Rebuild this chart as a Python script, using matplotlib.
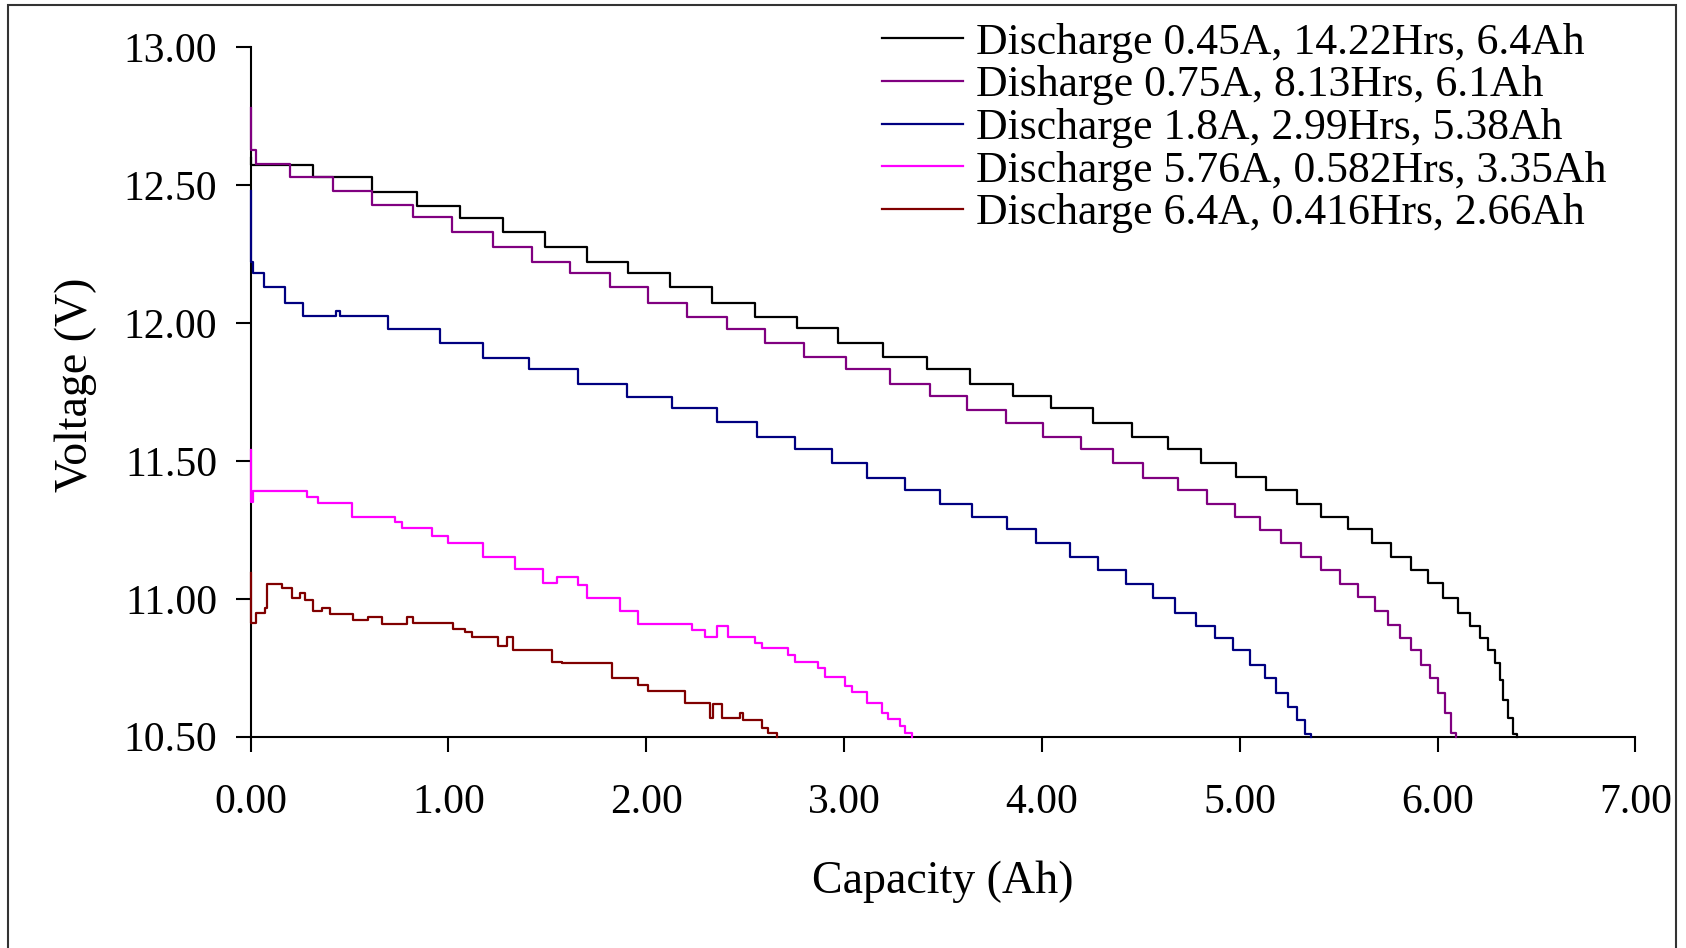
import numpy as np
import matplotlib.pyplot as plt
from matplotlib.patches import Rectangle

plt.rcParams['font.family'] = ['Liberation Serif', 'DejaVu Serif']

# capacity (Ah) where each voltage level starts, and the level (V)
cap_045 = [0, 0, 0.317, 0.613, 0.84, 1.059, 1.278, 1.488, 1.699, 1.909, 2.12, 2.33,
           2.549, 2.76, 2.97, 3.198, 3.417, 3.636, 3.855, 4.048, 4.259, 4.453, 4.638,
           4.805, 4.983, 5.135, 5.287, 5.413, 5.548, 5.666, 5.767, 5.868, 5.952, 6.029,
           6.103, 6.162, 6.213, 6.255, 6.29, 6.315, 6.33, 6.356, 6.381, 6.40]
volt_045 = [12.60, 12.573, 12.531, 12.476, 12.425, 12.38, 12.329, 12.277, 12.223, 12.18,
            12.13, 12.074, 12.023, 11.981, 11.927, 11.876, 11.832, 11.779, 11.736, 11.691,
            11.639, 11.588, 11.542, 11.494, 11.441, 11.395, 11.344, 11.298, 11.252, 11.202,
            11.153, 11.105, 11.057, 11.002, 10.948, 10.90, 10.857, 10.815, 10.766, 10.706,
            10.633, 10.567, 10.51, 10.50]

cap_075 = [0, 0, 0.03, 0.20, 0.418, 0.613, 0.823, 1.017, 1.227, 1.421, 1.615, 1.817,
           2.01, 2.204, 2.406, 2.60, 2.80, 3.01, 3.23, 3.434, 3.619, 3.821, 4.006, 4.2,
           4.36, 4.512, 4.69, 4.835, 4.975, 5.10, 5.21, 5.311, 5.413, 5.505, 5.598, 5.682,
           5.749, 5.808, 5.868, 5.918, 5.96, 6.002, 6.036, 6.07, 6.095]
volt_075 = [12.78, 12.628, 12.576, 12.531, 12.48, 12.428, 12.384, 12.331, 12.277, 12.223,
            12.18, 12.13, 12.074, 12.023, 11.979, 11.927, 11.876, 11.832, 11.779, 11.736,
            11.685, 11.639, 11.588, 11.542, 11.494, 11.437, 11.395, 11.344, 11.298, 11.25,
            11.202, 11.153, 11.105, 11.054, 11.008, 10.954, 10.905, 10.857, 10.815, 10.76,
            10.712, 10.658, 10.585, 10.513, 10.50]

cap_18 = [0, 0, 0.013, 0.067, 0.174, 0.266, 0.43, 0.45, 0.696, 0.958, 1.177, 1.405, 1.657,
          1.902, 2.129, 2.356, 2.558, 2.751, 2.937, 3.114, 3.31, 3.484, 3.648, 3.825, 3.97,
          4.14, 4.284, 4.427, 4.562, 4.672, 4.781, 4.874, 4.966, 5.051, 5.126, 5.185,
          5.244, 5.287, 5.329, 5.362]
volt_18 = [12.48, 12.223, 12.18, 12.132, 12.074, 12.027, 12.045, 12.027, 11.979, 11.929,
           11.875, 11.832, 11.779, 11.733, 11.691, 11.64, 11.588, 11.542, 11.492, 11.437,
           11.395, 11.344, 11.298, 11.252, 11.202, 11.152, 11.105, 11.054, 11.002, 10.948,
           10.90, 10.857, 10.815, 10.76, 10.712, 10.658, 10.609, 10.561, 10.51, 10.50]

cap_576 = [0, 0, 0.01, 0.284, 0.343, 0.512, 0.731, 0.764, 0.916, 1.0, 1.177, 1.337, 1.48,
           1.547, 1.657, 1.70, 1.867, 1.96, 2.229, 2.297, 2.356, 2.414, 2.549, 2.583,
           2.718, 2.752, 2.869, 2.903, 3.004, 3.038, 3.114, 3.19, 3.224, 3.283, 3.308,
           3.342]
volt_576 = [11.54, 11.35, 11.392, 11.37, 11.347, 11.298, 11.28, 11.256, 11.226, 11.202,
            11.152, 11.107, 11.057, 11.078, 11.05, 11.002, 10.954, 10.909, 10.887, 10.863,
            10.90, 10.863, 10.841, 10.821, 10.797, 10.772, 10.748, 10.716, 10.682, 10.66,
            10.621, 10.585, 10.564, 10.538, 10.514, 10.50]

cap_64 = [0, 0, 0.03, 0.072, 0.081, 0.157, 0.208, 0.25, 0.275, 0.317, 0.36, 0.402, 0.52,
          0.595, 0.663, 0.789, 0.823, 1.025, 1.084, 1.118, 1.252, 1.295, 1.328, 1.522,
          1.572, 1.825, 1.96, 2.01, 2.196, 2.322, 2.339, 2.381, 2.474, 2.49, 2.583, 2.617,
          2.659]
volt_64 = [11.093, 10.912, 10.948, 10.966, 11.054, 11.038, 11.002, 11.02, 10.996, 10.954,
           10.966, 10.945, 10.923, 10.935, 10.909, 10.935, 10.912, 10.89, 10.879, 10.863,
           10.827, 10.863, 10.815, 10.772, 10.766, 10.712, 10.688, 10.667, 10.621, 10.567,
           10.619, 10.567, 10.585, 10.561, 10.531, 10.513, 10.50]

labels = ['Discharge 0.45A, 14.22Hrs, 6.4Ah',
          'Disharge 0.75A, 8.13Hrs, 6.1Ah',
          'Discharge 1.8A, 2.99Hrs, 5.38Ah',
          'Discharge 5.76A, 0.582Hrs, 3.35Ah',
          'Discharge 6.4A, 0.416Hrs, 2.66Ah']
colors = ['black', '#800080', '#000080', '#FF00FF', '#800000']
series = [(cap_045, volt_045), (cap_075, volt_075), (cap_18, volt_18),
          (cap_576, volt_576), (cap_64, volt_64)]

fig = plt.figure(figsize=(16.86, 9.48), dpi=100)
ax = fig.add_axes([0.1486, 0.223, 0.8214, 0.727])

for (c, v), lab, col in zip(series, labels, colors):
    ax.step(c, v, where='post', color=col, lw=1.6, label=lab, clip_on=False, zorder=3)

ax.set_xlim(0, 7)
ax.set_ylim(10.5, 13.0)
ax.set_xticks(np.arange(0, 7.01, 1.0))
ax.set_yticks(np.arange(10.5, 13.01, 0.5))
ax.xaxis.set_major_formatter(plt.FormatStrFormatter('%.2f'))
ax.yaxis.set_major_formatter(plt.FormatStrFormatter('%.2f'))

for s in ['top', 'right']:
    ax.spines[s].set_visible(False)
for s in ['left', 'bottom']:
    ax.spines[s].set_linewidth(1.5)

ax.tick_params(axis='both', direction='out', length=11, width=1.5, labelsize=30)
ax.tick_params(axis='x', pad=23)
ax.tick_params(axis='y', pad=13)

ax.set_xlabel('Capacity (Ah)', fontsize=33)
ax.set_ylabel('Voltage (V)', fontsize=33)
ax.xaxis.set_label_coords(0.5, -0.18)
ax.yaxis.set_label_coords(-0.111, 0.51)

fig.legend(loc='upper left', bbox_to_anchor=(0.523, 0.976), frameon=False,
           fontsize=31.5, handlelength=1.85, handletextpad=0.3, labelspacing=0.06,
           borderpad=0, borderaxespad=0)

# outer frame of the picture
fig.patches.append(Rectangle((8/1686, -0.01), (1676-8)/1686, 1.01 - 5/948,
                             transform=fig.transFigure, fill=False,
                             edgecolor='#333333', lw=1.5))

fig.savefig('out.png', dpi=100)
